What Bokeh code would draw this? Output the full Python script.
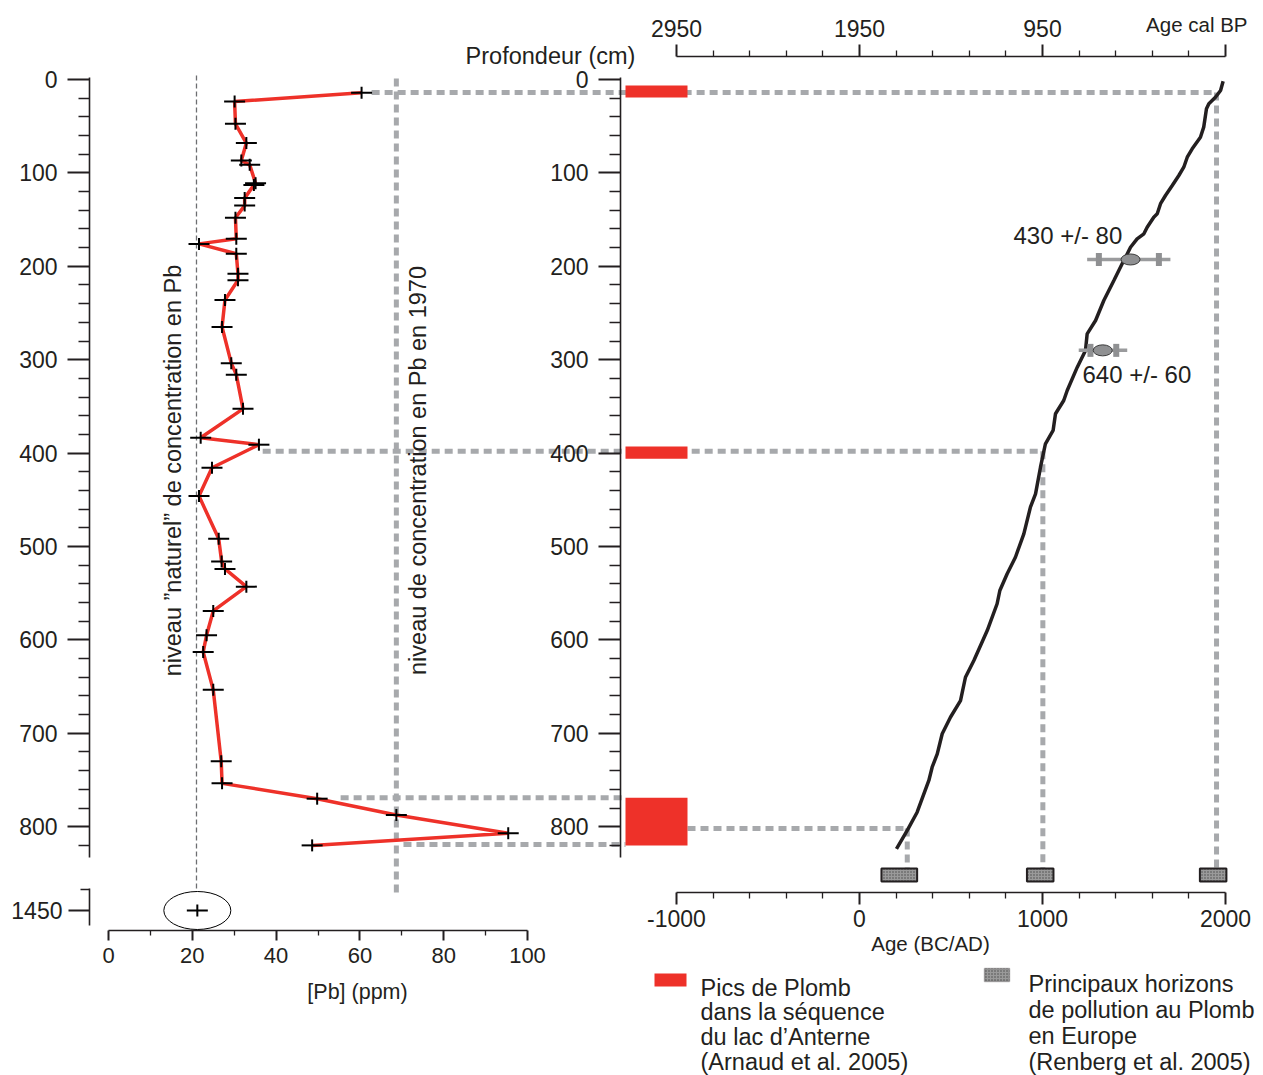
import math
from bokeh.plotting import figure
from bokeh.models import Range1d, LinearAxis, FixedTicker, Label, BoxAnnotation
from bokeh.embed import file_html
from bokeh.resources import INLINE

# ---------------- data ----------------
# Pb concentration profile (lake sediment core)
PB_DEPTH_CM = [14.2, 23.6, 47.5, 68.0, 86.7, 91.4, 111.0, 113.0, 127.0, 135.0,
               148.0, 170.6, 176.0, 186.6, 208.0, 215.0, 236.0, 265.0, 303.7, 316.0,
               352.6, 383.6, 391.0, 415.7, 446.0, 491.8, 516.0, 524.0, 543.0, 569.0,
               595.0, 613.0, 653.5, 730.0, 753.6, 770.0, 787.5, 807.0, 820.0]
PB_PPM = [60.4, 30.1, 30.3, 32.9, 31.7, 33.7, 35.1, 34.7, 32.5, 32.5,
          30.3, 30.5, 21.6, 30.5, 30.9, 30.9, 27.8, 27.1, 29.3, 30.5,
          32.1, 22.0, 35.9, 24.7, 21.6, 26.3, 27.0, 27.8, 32.9, 25.0,
          23.4, 22.6, 25.0, 26.9, 27.1, 49.8, 68.7, 95.4, 48.6]
DEEP_DEPTH_CM = [1450]
DEEP_PPM = [21.2]
NATURAL_PPM = 21.0
PPM_1970 = 68.7

# age-depth model
AGE_AD = [1987, 1973, 1945, 1909, 1896, 1881, 1863, 1818, 1791, 1772,
          1745, 1709, 1672, 1645, 1627, 1608, 1572, 1554, 1517, 1481,
          1454, 1444, 1390, 1335, 1290, 1244, 1235, 1190, 1135, 1116,
          1071, 1058, 1016, 989, 962, 934, 898, 852, 807, 767,
          752, 698, 625, 579, 552, 497, 452, 425, 397, 379,
          315, 261, 202]
AGE_DEPTH_CM = [1.8, 11.8, 19.0, 26.0, 31.4, 51.0, 61.8, 74.2, 83.2, 93.9,
                102.8, 113.5, 124.2, 133.0, 143.8, 147.4, 158.1, 165.2, 170.6, 179.6,
                190.3, 193.8, 215.2, 236.6, 258.0, 272.3, 290.1, 308.0, 333.0, 343.7,
                357.9, 375.8, 390.0, 415.1, 443.6, 457.9, 486.4, 511.5, 529.2, 547.1,
                561.3, 590.0, 622.0, 640.0, 665.0, 682.8, 700.5, 722.0, 736.3, 750.5,
                784.5, 804.0, 823.7]

# radiocarbon dates
DATE_LABELS = ["430 +/- 80", "640 +/- 60"]
DATE_DEPTH_CM = [192.7, 290.0]
DATE_AD = [1481, 1329]
DATE_LO_AD = [1244, 1198]
DATE_HI_AD = [1699, 1463]
DATE_CAP_LO_AD = [1308, 1262]
DATE_CAP_HI_AD = [1636, 1403]

# Pb peaks in the Anterne sequence (depth intervals)
PEAK_TOP_CM = [6.4, 393.0, 769.0]
PEAK_BOTTOM_CM = [19.3, 406.0, 820.0]

# main Pb pollution horizons in Europe (AD)
HORIZON_START_AD = [120, 915, 1860]
HORIZON_END_AD = [315, 1060, 2005]

# connectors: peak depth -> age
CONN_DEPTH_CM = [14.0, 398.0, 769.0, 819.0]
CONN_START_PPM = [62.8, 36.8, 55.4, 70.4]
CONN_END_AD = [1951, 1002, None, None]
LINK_DEPTH_CM = [14.0, 398.0, 802.0]
LINK_AD = [1951, 1002, 261]

DEPTH_TICKS = [0, 100, 200, 300, 400, 500, 600, 700, 800]
PB_TICKS = [0, 20, 40, 60, 80, 100]
AD_TICKS = [-1000, 0, 1000, 2000]
BP_TICKS = [2950, 1950, 950, -50]

# ---------------- layout / scales ----------------
OX, OY, W, H = 0, 0, 1263, 1075
PB_X0, PB_K = 108.0, 4.19
AGE_X0, AGE_K = 859.0, 0.183
DEP_Y0, DEP_K = 79.0, 0.934
DEEP_Y = 910.0

def px_to_pb(x): return (x - PB_X0) / PB_K
def px_to_age(x): return (x - AGE_X0) / AGE_K
def pb_to_age(v): return px_to_age(PB_X0 + PB_K * v)
def py_to_depth(y): return (y - DEP_Y0) / DEP_K
def py_to_deep(y): return 1450 + (y - DEEP_Y) / DEP_K

INK = "#231f20"
RED = "#ee3129"
GREY = "#a7a9ac"
FONT = "Liberation Sans"

p = figure(width=W, height=H, x_range=Range1d(OX, OX + W), y_range=Range1d(OY + H, OY),
           x_axis_type=None, y_axis_type=None, min_border=0, toolbar_location=None,
           output_backend="svg", outline_line_color=None, title=None)
p.background_fill_color = "white"
p.border_fill_color = "white"
p.extra_x_ranges = {
    "pb": Range1d(px_to_pb(OX), px_to_pb(OX + W)),
    "age": Range1d(px_to_age(OX), px_to_age(OX + W)),
    "bp": Range1d(1950 - px_to_age(OX), 1950 - px_to_age(OX + W)),
}
p.extra_y_ranges = {
    "depth": Range1d(py_to_depth(OY + H), py_to_depth(OY)),
    "deep": Range1d(py_to_deep(OY + H), py_to_deep(OY)),
}


def style_axis(ax, major_out, minor_out, standoff, size="23px"):
    ax.axis_line_color = INK
    ax.axis_line_width = 1.6
    ax.major_tick_line_color = INK
    ax.major_tick_line_width = 2
    ax.major_tick_in = 0
    ax.major_tick_out = major_out
    ax.minor_tick_line_color = INK
    ax.minor_tick_line_width = 1.3
    ax.minor_tick_in = 0
    ax.minor_tick_out = minor_out
    ax.major_label_standoff = standoff
    ax.major_label_text_font = FONT
    ax.major_label_text_font_size = size
    ax.major_label_text_color = INK


depth_minor = [d for d in range(20, 821, 20) if d % 100]
for xpix in (89, 620):
    ax = LinearAxis(y_range_name="depth", fixed_location=xpix,
                    bounds=(py_to_depth(77), py_to_depth(857)),
                    ticker=FixedTicker(ticks=DEPTH_TICKS, minor_ticks=depth_minor))
    style_axis(ax, 22, 11, 10)
    p.add_layout(ax, "left")

ax = LinearAxis(y_range_name="deep", fixed_location=89,
                bounds=(py_to_deep(888), py_to_deep(925)),
                ticker=FixedTicker(ticks=DEEP_DEPTH_CM, minor_ticks=[py_to_deep(888.5)]))
style_axis(ax, 21, 9, 6)
p.add_layout(ax, "left")

ax = LinearAxis(x_range_name="pb", fixed_location=930, bounds=(0, 100),
                ticker=FixedTicker(ticks=PB_TICKS, minor_ticks=[10, 30, 50, 70, 90]))
style_axis(ax, 10, 5, 7, "22px")
p.add_layout(ax, "below")

ad_minor = [a for a in range(-800, 2000, 200) if a % 1000]
ax = LinearAxis(x_range_name="age", fixed_location=892, bounds=(-1000, 2000),
                ticker=FixedTicker(ticks=AD_TICKS, minor_ticks=ad_minor))
style_axis(ax, 12, 6, 5)
ax.major_label_overrides = {-1000: "-1000"}
p.add_layout(ax, "below")

bp_minor = [1950 - a for a in ad_minor]
ax = LinearAxis(x_range_name="bp", fixed_location=56, bounds=(-50, 2950),
                ticker=FixedTicker(ticks=BP_TICKS, minor_ticks=bp_minor))
style_axis(ax, 12, 6, 8)
ax.major_label_overrides = {-50: ""}
p.add_layout(ax, "above")

# ---------------- reference levels ----------------
p.line([NATURAL_PPM, NATURAL_PPM], [py_to_depth(75), py_to_depth(888)],
       x_range_name="pb", y_range_name="depth", line_color="#6d6e71",
       line_width=1.3, line_dash="5 3")
p.line([PPM_1970, PPM_1970], [py_to_depth(78), py_to_depth(892)],
       x_range_name="pb", y_range_name="depth", line_color=GREY,
       line_width=5, line_dash="8 5")

# connectors
peak_left = px_to_age(625)
peak_right = px_to_age(687)
conn_x0 = [pb_to_age(v) for v in CONN_START_PPM]
conn_x1 = [e if e is not None else peak_left for e in CONN_END_AD]
p.segment(conn_x0, CONN_DEPTH_CM, conn_x1, CONN_DEPTH_CM, x_range_name="age",
          y_range_name="depth", line_color=GREY, line_width=5, line_dash="8 5")
p.segment([peak_right], [LINK_DEPTH_CM[2]], [LINK_AD[2]], [LINK_DEPTH_CM[2]],
          x_range_name="age", y_range_name="depth", line_color=GREY,
          line_width=5, line_dash="8 5")
hz_top = py_to_depth(868)
hz_bot = py_to_depth(881)
p.segment(LINK_AD, LINK_DEPTH_CM, LINK_AD, [hz_top] * len(LINK_AD),
          x_range_name="age", y_range_name="depth", line_color=GREY,
          line_width=5, line_dash="8 5")

# ---------------- Pb profile ----------------
p.line(PB_PPM, PB_DEPTH_CM, x_range_name="pb", y_range_name="depth",
       line_color=RED, line_width=3.5)
for xs, ys, yr in ((PB_PPM, PB_DEPTH_CM, "depth"), (DEEP_PPM, DEEP_DEPTH_CM, "deep")):
    p.scatter(xs, ys, x_range_name="pb", y_range_name=yr, marker="dash",
              size=21, line_color="black", line_width=2)
    p.scatter(xs, ys, x_range_name="pb", y_range_name=yr, marker="dash",
              angle=math.pi / 2, size=12, line_color="black", line_width=2)
p.ellipse(DEEP_PPM, DEEP_DEPTH_CM, width=67, height=38, width_units="screen",
          height_units="screen", fill_color=None, line_color="black", line_width=1,
          x_range_name="pb", y_range_name="deep")

# ---------------- Pb peaks & horizons ----------------
p.quad(left=[peak_left] * 3, right=[peak_right] * 3, top=PEAK_TOP_CM,
       bottom=PEAK_BOTTOM_CM, x_range_name="age", y_range_name="depth",
       fill_color=RED, line_color=None)
p.quad(left=HORIZON_START_AD, right=HORIZON_END_AD, top=[hz_top] * 3,
       bottom=[hz_bot] * 3, x_range_name="age", y_range_name="depth",
       fill_color="#9a9a9a", line_color="#231f20", line_width=2,
       hatch_pattern="dot", hatch_scale=3, hatch_color="#4a4a4a", hatch_weight=1)

# ---------------- age model ----------------
p.line(AGE_AD, AGE_DEPTH_CM, x_range_name="age", y_range_name="depth",
       line_color=INK, line_width=3.5)
p.segment(DATE_LO_AD, DATE_DEPTH_CM, DATE_HI_AD, DATE_DEPTH_CM,
          x_range_name="age", y_range_name="depth", line_color="#9a9b9d", line_width=3.5)
p.rect(DATE_CAP_LO_AD + DATE_CAP_HI_AD, DATE_DEPTH_CM + DATE_DEPTH_CM, width=6, height=13,
       width_units="screen", height_units="screen", x_range_name="age",
       y_range_name="depth", fill_color="#8f9092", line_color=None)
p.ellipse(DATE_AD, DATE_DEPTH_CM, width=19, height=11, width_units="screen",
          height_units="screen", x_range_name="age", y_range_name="depth",
          fill_color="#8f9092", line_color="#3a3a3a", line_width=1)


# ---------------- texts ----------------
def label(x, y, text, size="23.5px", align="left", baseline="middle", angle=0.0):
    p.add_layout(Label(x=x, y=y, text=text, text_font=FONT, text_font_size=size,
                       text_color=INK, text_align=align, text_baseline=baseline,
                       angle=angle))


label(1013, 235, DATE_LABELS[0], size="24px")
label(1082, 374, DATE_LABELS[1], size="24px")
label(550, 55, "Profondeur (cm)", align="center")
label(357, 991, "[Pb] (ppm)", size="21.5px", align="center")
label(930, 943, "Age (BC/AD)", size="20.5px", align="center")
label(1247, 24, "Age cal BP", size="20.5px", align="right")
label(172, 470, "niveau \u201dnaturel\u201d de concentration en Pb", align="center",
      angle=math.pi / 2)
label(417, 470, "niveau de concentration en Pb en 1970", align="center",
      angle=math.pi / 2)

# legend
p.add_layout(BoxAnnotation(left=654, right=686, top=973, bottom=986,
                           fill_color=RED, fill_alpha=1, line_color=None))
p.add_layout(BoxAnnotation(left=984, right=1009, top=968, bottom=981,
                           fill_color="#9a9a9a", fill_alpha=1, line_color=INK,
                           line_width=1.5, hatch_pattern="dot", hatch_scale=3,
                           hatch_color="#4a4a4a", hatch_weight=1))
for i, t in enumerate(["Pics de Plomb", "dans la s\u00e9quence", "du lac d\u2019Anterne",
                       " (Arnaud et al. 2005)"]):
    label(700, 987 + 24.7 * i, t, baseline="alphabetic")
for i, t in enumerate(["Principaux horizons", "de pollution au Plomb", "en Europe",
                       "(Renberg et al. 2005)"]):
    label(1028, 983 + 26.0 * i, t, baseline="alphabetic")

open("out.html", "w").write(file_html(p, INLINE))
